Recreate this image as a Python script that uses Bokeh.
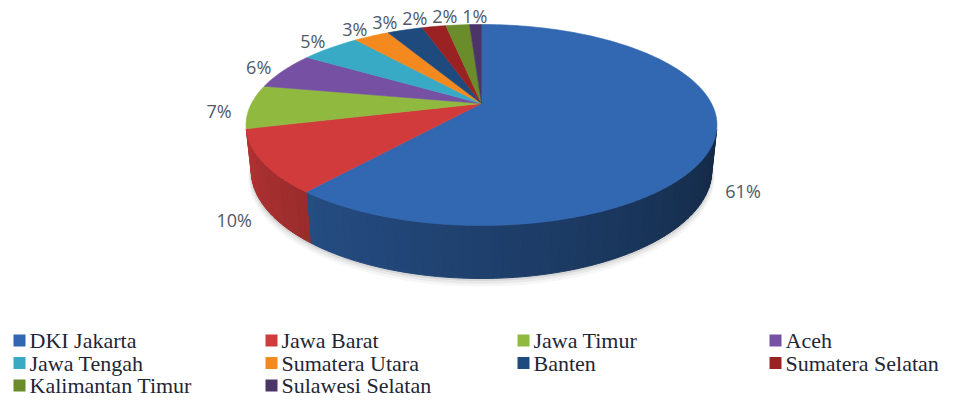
import numpy as np
from bokeh.plotting import figure
from bokeh.models import Range1d, ColumnDataSource
from bokeh.embed import file_html
from bokeh.resources import INLINE
from bokeh.core.properties import value

# ---------------- data ----------------
provinces = ["DKI Jakarta", "Jawa Barat", "Jawa Timur", "Aceh", "Jawa Tengah",
             "Sumatera Utara", "Banten", "Sumatera Selatan", "Kalimantan Timur",
             "Sulawesi Selatan"]
shares = [61, 10, 7, 6, 5, 3, 3, 2, 2, 1]
colors = ["#3268b1", "#d13b3b", "#8fba3f", "#7650a2", "#38aac6",
          "#f48a1f", "#1f4a7e", "#9a2222", "#6a8c2a", "#4b3568"]

# ---------------- 3D pie projection geometry ----------------
CX, CY = 481.0, 103.0          # projected centre of the top face (page px)
FOC, DIST = 977.5, 4.25        # perspective focal length / camera distance
EL = np.arcsin(0.417)          # elevation of the view
S, C = np.sin(EL), np.cos(EL)
H = 0.217                      # pie thickness (radius units)


def proj(th, r=1.0, z=0.0):
    th = np.asarray(th, dtype=float)
    X = r * np.sin(th)
    Y = r * np.cos(th)
    zc = Y * C + DIST - z * S
    sx = FOC * X / zc
    sy = FOC * (Y * S + z * C) / zc
    return CX + sx, CY - sy


def shade(hexcol, f):
    h = hexcol.lstrip("#")
    rgb = [int(h[i:i + 2], 16) for i in (0, 2, 4)]
    rgb = [max(0, min(255, int(round(v * f)))) for v in rgb]
    return "#%02x%02x%02x" % tuple(rgb)


vals = np.array(shares, dtype=float)
frac = vals / vals.sum()
ends = np.cumsum(frac) * 2 * np.pi
starts = ends - frac * 2 * np.pi

# visible part of the outer wall
vis_lim = np.arccos(-1.0 / (DIST * C))
v0, v1 = vis_lim, 2 * np.pi - vis_lim

side_xs, side_ys, side_cols = [], [], []
for a0, a1, col in zip(starts, ends, colors):
    lo, hi = max(a0, v0), min(a1, v1)
    if hi <= lo:
        continue
    n = max(1, int(np.ceil(np.degrees(hi - lo) / 2.0)))
    edges = np.linspace(lo, hi, n + 1)
    for t0, t1 in zip(edges[:-1], edges[1:]):
        tt = np.linspace(t0, t1, 3)
        xt, yt = proj(tt)
        xb, yb = proj(tt[::-1], z=-H)
        side_xs.append(list(xt) + list(xb))
        side_ys.append(list(yt) + list(yb))
        tm = np.degrees((t0 + t1) / 2)
        f = 0.38 + 0.47 * (tm - np.degrees(v0)) / (np.degrees(v1) - np.degrees(v0))
        side_cols.append(shade(col, f))

top_xs, top_ys = [], []
for a0, a1 in zip(starts, ends):
    n = max(4, int(np.ceil(np.degrees(a1 - a0) / 1.5)))
    tt = np.linspace(a0, a1, n)
    xa, ya = proj(tt)
    top_xs.append([CX] + list(xa))
    top_ys.append([CY] + list(ya))

# soft shadow under the pie
sh_xs, sh_ys, sh_alpha = [], [], []
tt = np.linspace(v0 - 0.15, v1 + 0.15, 120)
for k, (dy, a) in enumerate([(6, 0.05), (4, 0.08), (2, 0.12)]):
    xb, yb = proj(tt, 1.0 + 0.004 * (3 - k), z=-H)
    xt, yt = proj(tt[::-1], 1.0)
    sh_xs.append(list(xb) + list(xt))
    sh_ys.append(list(yb + dy) + list(yt))
    sh_alpha.append(a)

# ---------------- labels ----------------
labels = ["%d%%" % v for v in shares]
mids = (starts + ends) / 2
lx, ly = [], []
for m in mids:
    zl = -H * np.clip(-3 * np.cos(m), 0, 1)
    x, y = proj(m, 1.135, zl)
    lx.append(float(x))
    ly.append(float(max(y, 13.0)))
widths = [12 * len(t) + 6 for t in labels]
for i in range(len(labels) - 2, -1, -1):
    if abs(ly[i] - ly[i + 1]) < 16 and lx[i] < lx[i + 1]:
        lim = lx[i + 1] - (widths[i] + widths[i + 1]) / 2
        if lx[i] > lim:
            lx[i] = lim

# ---------------- figure ----------------
W, Hpx = 953, 397
p = figure(width=W, height=Hpx, x_range=Range1d(0, W), y_range=Range1d(Hpx, 0),
           output_backend="svg", toolbar_location=None, min_border=0)
p.axis.visible = False
p.grid.visible = False
p.outline_line_color = None
p.background_fill_color = "white"

p.patches(xs="xs", ys="ys", fill_color="#555555", fill_alpha="a", line_color=None,
          source=ColumnDataSource(dict(xs=sh_xs, ys=sh_ys, a=sh_alpha)))
p.patches(xs="xs", ys="ys", fill_color="c", line_color="c", line_width=1,
          source=ColumnDataSource(dict(xs=side_xs, ys=side_ys, c=side_cols)))
p.patches(xs="xs", ys="ys", fill_color="c", line_color="c", line_width=0.6,
          source=ColumnDataSource(dict(xs=top_xs, ys=top_ys, c=colors)))

p.text(x="x", y="y", text="t", source=ColumnDataSource(dict(x=lx, y=ly, t=labels)),
       text_font=value("Open Sans"), text_font_size="18px", text_color="#4f5968",
       text_align="center", text_baseline="middle")

# ---------------- legend ----------------
ncol = 4
idx = np.arange(len(provinces))
lgx = 19 + (idx % ncol) * 252.0
lgy = 340 + (idx // ncol) * 22.5
p.scatter(x=lgx, y=lgy, marker="square", size=12, fill_color=colors, line_color=None)
p.text(x=lgx + 10, y=lgy, text=provinces,
       text_font=value("Liberation Serif"),
       text_font_size="22px", text_color="#1f2636",
       text_align="left", text_baseline="middle")

open("out.html", "w").write(file_html(p, INLINE))
